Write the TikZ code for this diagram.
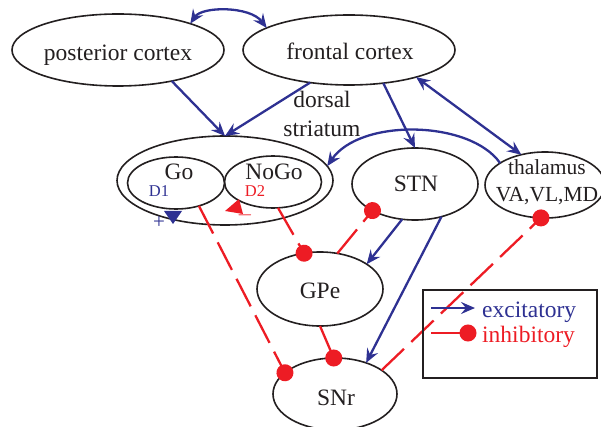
\documentclass[tikz,border=0pt]{standalone}
\usepackage{fontspec}
\setmainfont{Liberation Serif}
\usetikzlibrary{arrows.meta,shapes.geometric}
\definecolor{exc}{RGB}{46,49,146}
\definecolor{inhc}{RGB}{237,28,36}
\definecolor{ink}{RGB}{35,31,32}
\begin{document}
\begin{tikzpicture}[x=1pt,y=-1pt,
  region/.style={ellipse, draw=ink, line width=1.6pt, inner sep=0pt, outer sep=0pt},
  lbl/.style={anchor=base, inner sep=0pt, text=ink, font=\fontsize{23.5}{26}\selectfont},
  thallbl/.style={anchor=base, inner sep=0pt, text=ink, font=\fontsize{21.5}{24}\selectfont},
  tag/.style={anchor=base, inner sep=0pt, font=\fontsize{16.5}{18}\selectfont},
  sign/.style={anchor=center, inner sep=0pt, font=\fontsize{21}{24}\selectfont},
  excit/.style={draw=exc, line width=2.3pt, -{Stealth[length=14pt,width=12pt,inset=5pt]}},
  excboth/.style={draw=exc, line width=2.3pt, {Stealth[length=14pt,width=12pt,inset=5pt]}-{Stealth[length=14pt,width=12pt,inset=5pt]}},
  inhib/.style={draw=inhc, line width=2.3pt, -{Circle[length=17pt]}, shorten >=-8.5pt},
  longdash/.style={dash pattern=on 31pt off 10pt},
]
\useasboundingbox (0,0) rectangle (601,427);

% regions
\node[region, minimum width=212, minimum height=72] (post) at (118,50) {};
\node[region, minimum width=212, minimum height=70] (front) at (349,50) {};
\node[region, minimum width=216, minimum height=89] (stri) at (225,180.5) {};
\node[region, minimum width=97, minimum height=52] (go) at (176,183) {};
\node[region, minimum width=97, minimum height=52] (nogo) at (273,182) {};
\node[region, minimum width=126, minimum height=72] (stn) at (415,184) {};
\node[region, minimum width=120, minimum height=66] (thal) at (545,185) {};
\node[region, minimum width=126, minimum height=74] (gpe) at (320,289) {};
\node[region, minimum width=124, minimum height=72] (snr) at (335,394) {};

% region labels
\node[lbl] (t-post) at (118,61) {posterior cortex};
\node[lbl] (t-front) at (350,60) {frontal cortex};
\node[lbl] (t-dorsal) at (322,108) {dorsal};
\node[lbl] (t-striatum) at (322,137) {striatum};
\node[lbl] (t-go) at (179,180) {Go};
\node[lbl] (t-nogo) at (274,180) {NoGo};
\node[tag, text=exc] (t-d1) at (159,197) {D1};
\node[tag, text=inhc] (t-d2) at (255,197) {D2};
\node[lbl] (t-stn) at (416,192) {STN};
\node[thallbl] (t-thal) at (547,175) {thalamus};
\node[thallbl] (t-va) at (547,202) {VA,VL,MD};
\node[lbl] (t-gpe) at (320,298) {GPe};
\node[lbl] (t-snr) at (336,405) {SNr};

% dopamine effects on the striatal populations
\fill[exc] (164,211) -- (182,211) -- (173,224) -- cycle;
\fill[inhc] (225,211) -- (239,199) -- (243,214) -- cycle;
\node[sign, text=exc] (t-plus) at (159,223) {+};
\node[sign, text=inhc] (t-minus) at (245,215) {$-$};

% excitatory projections
\draw[excboth] (post.20) .. controls (202,6) and (250,6) .. (front.165);
\draw[excit] (post.-30) -- (stri.north);
\draw[excit] (front.-140) -- (stri.north);
\draw[excit] (front.-44) -- (stn.north);
\draw[excboth] (thal.128) -- (front.-22);
\draw[excit] (thal.154) .. controls (470,120) and (360,118) .. (stri.8);
\draw[excit] (stn.-110) -- (gpe.28);
\draw[excit] (stn.-51) -- (snr.45);

% inhibitory projections
\draw[inhib, longdash] (go.-45) -- (snr.157);
\draw[inhib, longdash] (nogo.-79) -- (gpe.114);
\draw[inhib, longdash] (gpe.64) -- (stn.212);
\draw[inhib] (gpe.-90) -- (snr.92);
\draw[inhib, longdash] (snr.27) -- (thal.-97);

% legend
\node[draw=ink, line width=1.6pt, minimum width=174, minimum height=88, inner sep=0pt] (legend) at (510,334) {};
\coordinate (ex-a) at (431,308);
\coordinate (ex-b) at (475,308);
\coordinate (in-a) at (431,333);
\coordinate (in-b) at (468,333);
\draw[excit] (ex-a) -- (ex-b);
\draw[inhib] (in-a) -- (in-b);
\node[lbl, anchor=base west, text=exc] (t-exc) at (482,317) {excitatory};
\node[lbl, anchor=base west, text=inhc] (t-inh) at (482,342) {inhibitory};
\end{tikzpicture}
\end{document}
